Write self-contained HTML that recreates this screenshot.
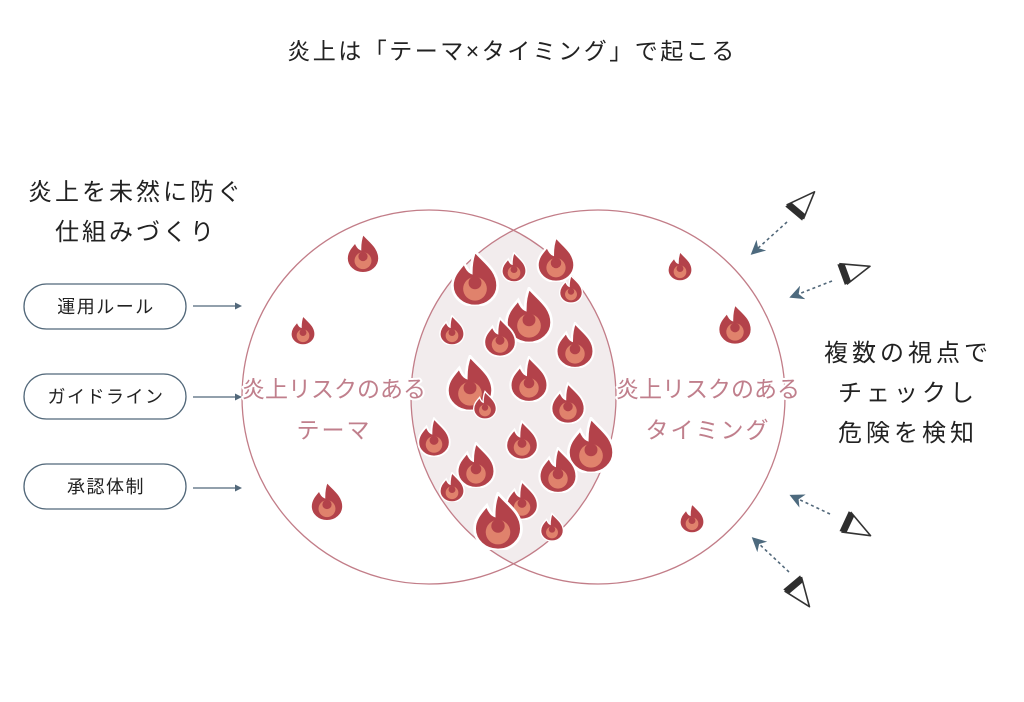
<!DOCTYPE html>
<html><head><meta charset="utf-8"><style>
html,body{margin:0;padding:0;background:#fff;}
body{width:1024px;height:702px;overflow:hidden;position:relative;font-family:"Liberation Sans","Noto Sans CJK JP",sans-serif;}
</style></head><body>
<svg width="1024" height="702" viewBox="0 0 1024 702" xmlns="http://www.w3.org/2000/svg" style="position:absolute;left:0;top:0">
<defs>
<symbol id="f" viewBox="2 -2 96 104">
<path d="M50,0 C64,18 92,34 92,64 A42,38 0 1 1 8,64 C8,46 20,34 30,22 C34,32 38,38 43,40 C43,26 45,12 50,0 Z" fill="#b3424a" stroke="#fff" stroke-width="5"/>
<circle cx="50" cy="70" r="22" fill="#e0826c"/>
<circle cx="50" cy="59" r="12" fill="#b3424a"/>
</symbol>
<clipPath id="cl"><circle cx="429" cy="397" r="187"/></clipPath>
<marker id="ah" viewBox="0 0 10 10" refX="5" refY="5" markerWidth="9" markerHeight="9" orient="auto"><path d="M0,0 L10,5 L0,10 L3,5Z" fill="#4d6a7e"/></marker>
<g id="eye"><path d="M0,-11 L28,2 L0,11" fill="none" stroke="#333" stroke-width="1.6" stroke-linejoin="round"/><path d="M-2,-11 L5,-9 L5,9 L-2,11 Z" fill="#2e2e2e"/></g>
</defs>
<text x="512" y="59" font-size="23" text-anchor="middle" fill="#222" letter-spacing="2.5">炎上は「テーマ×タイミング」で起こる</text>
<text x="136" y="200" font-size="24" text-anchor="middle" fill="#222" letter-spacing="3">炎上を未然に防ぐ</text>
<text x="136" y="240" font-size="24" text-anchor="middle" fill="#222" letter-spacing="3">仕組みづくり</text>
<g fill="#fff" stroke="#52687a" stroke-width="1.3">
<rect x="24" y="284" width="162" height="45" rx="22.5"/>
<rect x="24" y="374" width="162" height="45" rx="22.5"/>
<rect x="24" y="464" width="162" height="45" rx="22.5"/>
</g>
<g font-size="18" text-anchor="middle" fill="#222" letter-spacing="1.5">
<text x="106" y="313">運用ルール</text>
<text x="106" y="403">ガイドライン</text>
<text x="106" y="493">承認体制</text>
</g>
<g stroke="#52687a" stroke-width="1.2">
<line x1="193" y1="306" x2="238" y2="306"/><line x1="193" y1="397" x2="238" y2="397"/><line x1="193" y1="488" x2="238" y2="488"/>
</g>
<g fill="#52687a"><path d="M242,306 l-7,-3.5 v7z"/><path d="M242,397 l-7,-3.5 v7z"/><path d="M242,488 l-7,-3.5 v7z"/></g>
<circle cx="598" cy="397" r="187" fill="#f2eced" clip-path="url(#cl)"/>
<circle cx="429" cy="397" r="187" fill="none" stroke="#c27d88" stroke-width="1.3"/>
<circle cx="598" cy="397" r="187" fill="none" stroke="#c27d88" stroke-width="1.3"/>
<g>
<use href="#f" x="344" y="233" width="38" height="40"/>
<use href="#f" x="289" y="315" width="28" height="30"/>
<use href="#f" x="308" y="481" width="38" height="40"/>
<use href="#f" x="666" y="251" width="28" height="30"/>
<use href="#f" x="716" y="303" width="38" height="42"/>
<use href="#f" x="678" y="503" width="28" height="30"/>
<use href="#f" x="449" y="250" width="52" height="56"/>
<use href="#f" x="500" y="252" width="28" height="30"/>
<use href="#f" x="535" y="236" width="42" height="46"/>
<use href="#f" x="558" y="274" width="26" height="30"/>
<use href="#f" x="503" y="287" width="52" height="56"/>
<use href="#f" x="438" y="315" width="28" height="30"/>
<use href="#f" x="482" y="317" width="36" height="40"/>
<use href="#f" x="553" y="322" width="44" height="46"/>
<use href="#f" x="443" y="355" width="54" height="56"/>
<use href="#f" x="507" y="356" width="44" height="46"/>
<use href="#f" x="472" y="390" width="26" height="30"/>
<use href="#f" x="549" y="382" width="38" height="42"/>
<use href="#f" x="416" y="417" width="36" height="40"/>
<use href="#f" x="504" y="420" width="36" height="40"/>
<use href="#f" x="564" y="417" width="54" height="56"/>
<use href="#f" x="454" y="442" width="44" height="46"/>
<use href="#f" x="536" y="447" width="44" height="46"/>
<use href="#f" x="438" y="472" width="28" height="30"/>
<use href="#f" x="504" y="480" width="36" height="40"/>
<use href="#f" x="471" y="492" width="54" height="58"/>
<use href="#f" x="539" y="512" width="26" height="30"/>
</g>
<g font-size="23" text-anchor="middle" fill="#c07f8c" stroke="#fff" stroke-width="4" paint-order="stroke" stroke-linejoin="round">
<text x="334" y="397">炎上リスクのある</text>
<text x="334" y="438" letter-spacing="2">テーマ</text>
<text x="708" y="397">炎上リスクのある</text>
<text x="708" y="438" letter-spacing="2">タイミング</text>
</g>
<g font-size="24" text-anchor="middle" fill="#222" letter-spacing="4">
<text x="908" y="361">複数の視点で</text>
<text x="908" y="401">チェックし</text>
<text x="908" y="441">危険を検知</text>
</g>
<g stroke="#52687a" stroke-width="1.6" stroke-dasharray="3,3" fill="none" marker-end="url(#ah)">
<line x1="787" y1="222" x2="756" y2="250"/>
<line x1="832" y1="281" x2="796" y2="295"/>
<line x1="830" y1="514" x2="796" y2="498"/>
<line x1="789" y1="572" x2="757" y2="542"/>
</g>
<use href="#eye" transform="translate(795,212) rotate(-50)"/>
<use href="#eye" transform="translate(843,274) rotate(-20)"/>
<use href="#eye" transform="translate(846,522) rotate(25)"/>
<use href="#eye" transform="translate(793,584) rotate(50)"/>
</svg>
</body></html>
